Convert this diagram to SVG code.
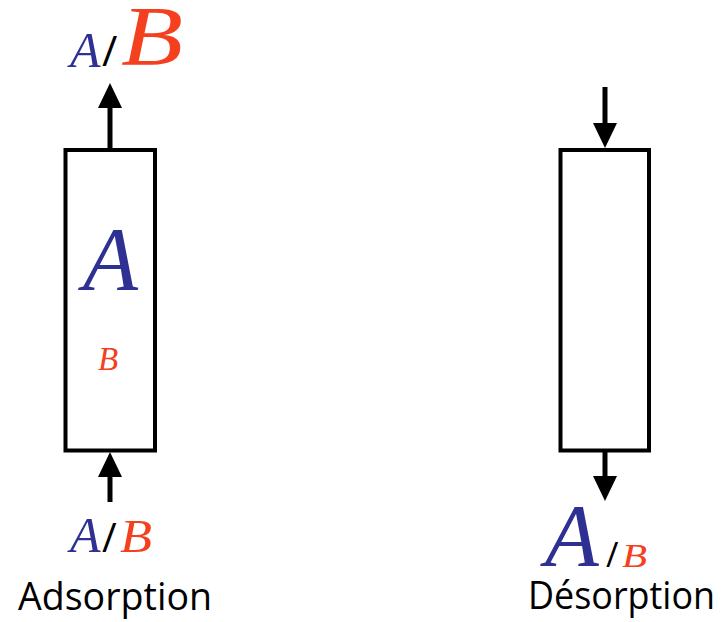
<svg xmlns="http://www.w3.org/2000/svg" width="721" height="622" viewBox="0 0 721 622">
<style>
.box{fill:#fff;stroke:#000;stroke-width:4}
.con{stroke:#000;stroke-width:5;fill:none;marker-end:url(#ah)}
.m{font-family:"Liberation Serif","DejaVu Serif",serif;font-style:italic}
.bl{fill:#2e3192}
.rd{fill:#f4401f}
.sl{font-family:"Open Sans","Liberation Sans",sans-serif;fill:#000}
.lbl{font-family:"Open Sans","Liberation Sans",sans-serif;font-size:37.5px;fill:#000}
</style>
<defs>
<marker id="ah" markerUnits="userSpaceOnUse" markerWidth="26" markerHeight="24" refX="0" refY="12" orient="auto">
<path d="M0,0 L25,12 L0,24 z" fill="#000"/>
</marker>
</defs>
<rect width="721" height="622" fill="#fff"/>
<g id="adsorption">
<rect class="box" x="65.5" y="150" width="89.5" height="300.5"/>
<text class="m bl" x="83" y="290" font-size="90">A</text>
<text class="m rd" x="98" y="370" font-size="33">B</text>
</g>
<g id="desorption">
<rect class="box" x="560.5" y="150" width="88.5" height="300.5"/>
</g>
<g id="top-left-label">
<text class="m bl" x="70" y="67" font-size="50">A</text>
<text class="sl" x="102" y="66" font-size="42">/</text>
<text class="m rd" x="121" y="65" font-size="84" textLength="62" lengthAdjust="spacingAndGlyphs">B</text>
</g>
<g id="bottom-left-label">
<text class="m bl" x="70" y="552" font-size="50">A</text>
<text class="sl" x="102" y="552" font-size="40">/</text>
<text class="m rd" x="120" y="552" font-size="46" textLength="32" lengthAdjust="spacingAndGlyphs">B</text>
</g>
<g id="bottom-right-label">
<text class="m bl" x="545" y="565" font-size="88">A</text>
<text class="sl" x="606" y="567" font-size="34">/</text>
<text class="m rd" x="622" y="567" font-size="33" textLength="25" lengthAdjust="spacingAndGlyphs">B</text>
</g>
<g id="captions">
<text class="lbl" x="18" y="610" textLength="194" lengthAdjust="spacingAndGlyphs">Adsorption</text>
<text class="lbl" x="528" y="609" textLength="187" lengthAdjust="spacingAndGlyphs">Désorption</text>
</g>
<g id="connectors">
<path class="con" d="M110,150 V108"/>
<path class="con" d="M110,502 V477"/>
<path class="con" d="M605,87 V123"/>
<path class="con" d="M605,450 V476"/>
</g>
</svg>
